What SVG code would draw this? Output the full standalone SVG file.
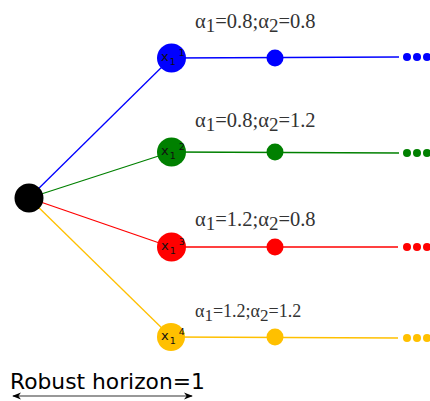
<svg xmlns="http://www.w3.org/2000/svg" width="430" height="401" viewBox="0 0 430 401">
<defs>
<style>
.lbl{font-family:"Liberation Serif","Times New Roman",serif;font-size:20.5px;fill:#333}
.sub{font-size:19px}
.nl{font-family:"DejaVu Sans",Verdana,sans-serif;font-size:13px;fill:#111}
.ns{font-size:9.5px}
.cap{font-family:"DejaVu Sans",Verdana,sans-serif;font-size:21.8px;fill:#000}
</style>
<marker id="ah" viewBox="0 0 10 10" refX="9" refY="5" markerWidth="9" markerHeight="9" orient="auto-start-reverse" markerUnits="userSpaceOnUse">
<path d="M0,1 L10,5 L0,9 L3,5 Z" fill="#000"/>
</marker>
</defs>
<rect width="430" height="401" fill="#fff"/>
<g id="connectors" fill="none" stroke-width="1.3">
<line x1="29" y1="198" x2="171" y2="58" stroke="#0000ff"/>
<line x1="29" y1="198" x2="171" y2="152" stroke="#008000"/>
<line x1="29" y1="198" x2="171" y2="247" stroke="#ff0000"/>
<line x1="29" y1="198" x2="171" y2="337" stroke="#ffc000"/>
<line x1="171" y1="58" x2="399" y2="57" stroke="#0000ff"/>
<line x1="171" y1="152" x2="399" y2="153" stroke="#008000"/>
<line x1="171" y1="247" x2="398" y2="247" stroke="#ff0000"/>
<line x1="171" y1="337" x2="398" y2="338" stroke="#ffc000"/>
</g>
<g id="root"><circle cx="29" cy="198" r="14.5" fill="#000"/></g>
<g id="n1">
<circle cx="171.5" cy="58" r="14.5" fill="#0000ff"/>
<text class="nl" x="161" y="61">x<tspan class="ns" dx="1" dy="4">1</tspan><tspan class="ns" dx="3" dy="-9">1</tspan></text>
<circle cx="275" cy="58" r="8.5" fill="#0000ff"/>
<circle cx="407" cy="57" r="4" fill="#0000ff"/><circle cx="417" cy="57" r="4" fill="#0000ff"/><circle cx="427" cy="57" r="4" fill="#0000ff"/>
<text class="lbl" x="195" y="28">α<tspan class="sub" dy="4">1</tspan><tspan dy="-4">=0.8;α</tspan><tspan class="sub" dy="4">2</tspan><tspan dy="-4">=0.8</tspan></text>
</g>
<g id="n2">
<circle cx="171.5" cy="152" r="14.5" fill="#008000"/>
<text class="nl" x="161" y="155">x<tspan class="ns" dx="1" dy="4">1</tspan><tspan class="ns" dx="3" dy="-9">2</tspan></text>
<circle cx="275" cy="152" r="8.5" fill="#008000"/>
<circle cx="407" cy="153" r="4" fill="#008000"/><circle cx="417" cy="153" r="4" fill="#008000"/><circle cx="427" cy="153" r="4" fill="#008000"/>
<text class="lbl" x="195" y="127">α<tspan class="sub" dy="4">1</tspan><tspan dy="-4">=0.8;α</tspan><tspan class="sub" dy="4">2</tspan><tspan dy="-4">=1.2</tspan></text>
</g>
<g id="n3">
<circle cx="171.5" cy="247" r="14.5" fill="#ff0000"/>
<text class="nl" x="161" y="250">x<tspan class="ns" dx="1" dy="4">1</tspan><tspan class="ns" dx="3" dy="-9">3</tspan></text>
<circle cx="275" cy="247" r="8.5" fill="#ff0000"/>
<circle cx="407" cy="247" r="4" fill="#ff0000"/><circle cx="417" cy="247" r="4" fill="#ff0000"/><circle cx="427" cy="247" r="4" fill="#ff0000"/>
<text class="lbl" x="195" y="226">α<tspan class="sub" dy="4">1</tspan><tspan dy="-4">=1.2;α</tspan><tspan class="sub" dy="4">2</tspan><tspan dy="-4">=0.8</tspan></text>
</g>
<g id="n4">
<circle cx="171" cy="337" r="14" fill="#ffc000"/>
<text class="nl" x="161" y="340">x<tspan class="ns" dx="1" dy="4">1</tspan><tspan class="ns" dx="3" dy="-9">4</tspan></text>
<circle cx="275" cy="337" r="8.5" fill="#ffc000"/>
<circle cx="407" cy="338" r="4" fill="#ffc000"/><circle cx="417" cy="338" r="4" fill="#ffc000"/><circle cx="427" cy="338" r="4" fill="#ffc000"/>
<text class="lbl" x="195" y="317" style="font-size:18px">α<tspan class="sub" dy="3.5" style="font-size:17px">1</tspan><tspan dy="-3.5">=1.2;α</tspan><tspan class="sub" dy="3.5" style="font-size:17px">2</tspan><tspan dy="-3.5">=1.2</tspan></text>
</g>
<g id="horizon">
<text class="cap" x="10" y="389">Robust horizon=1</text>
<line x1="13" y1="396" x2="192" y2="396" stroke="#333" stroke-width="1.2" marker-start="url(#ah)" marker-end="url(#ah)"/>
</g>
</svg>
